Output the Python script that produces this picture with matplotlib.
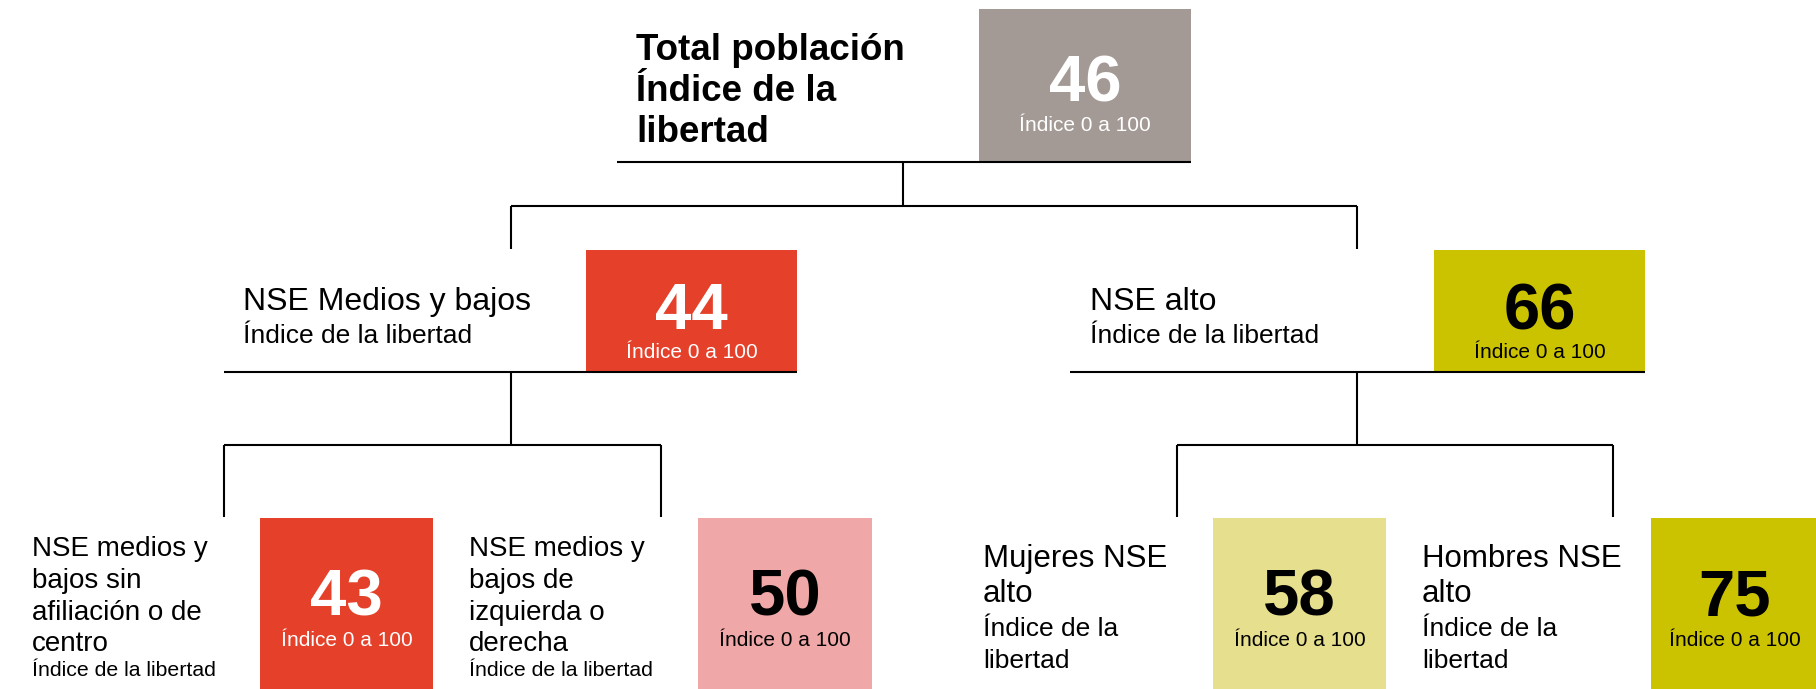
import matplotlib.pyplot as plt
from matplotlib.patches import Rectangle

plt.rcParams['font.family'] = ['Liberation Sans', 'DejaVu Sans']

# Node data (top, level 2, level 3)
node_names = ["Total población", "NSE Medios y bajos", "NSE alto",
              "NSE medios y bajos sin afiliación o de centro",
              "NSE medios y bajos de izquierda o derecha",
              "Mujeres NSE alto", "Hombres NSE alto"]
node_values = [46, 44, 66, 43, 50, 58, 75]
node_colors = ["#A39A95", "#E5402A", "#CCC300", "#E5402A", "#EFA7A7", "#E6DF8D", "#CCC300"]
value_colors = ["white", "white", "black", "white", "black", "black", "black"]
sub_label = "Índice 0 a 100"
index_label = "Índice de la libertad"

# Label lines as they wrap in the picture
label_lines = [
    ["Total población", "Índice de la", "libertad"],
    ["NSE Medios y bajos"],
    ["NSE alto"],
    ["NSE medios y", "bajos sin", "afiliación o de", "centro"],
    ["NSE medios y", "bajos de", "izquierda o", "derecha"],
    ["Mujeres NSE", "alto"],
    ["Hombres NSE", "alto"],
]

W, H = 1816, 689
fig = plt.figure(figsize=(W / 100, H / 100), dpi=100)
ax = fig.add_axes([0, 0, 1, 1])
ax.set_xlim(0, W)
ax.set_ylim(H, 0)
ax.axis('off')

# layout: box (x0, y0, x1, y1) in pixels
boxes = [(979, 9, 1191, 161),
         (586, 250, 797, 371), (1434, 250, 1645, 371),
         (260, 518, 433, 700), (698, 518, 872, 700),
         (1213, 518, 1386, 700), (1651, 518, 1830, 700)]

for i, (x0, y0, x1, y1) in enumerate(boxes):
    ax.add_patch(Rectangle((x0, y0), x1 - x0, y1 - y0, color=node_colors[i], lw=0, zorder=1))

# numbers and sub labels in boxes
num_base = [102, 329, 329, 616, 616, 616, 616]
sub_base = [131, 358, 358, 646, 646, 646, 646]
for i, (x0, y0, x1, y1) in enumerate(boxes):
    xc = (x0 + min(x1, W)) / 2 if i < 6 else 1735
    ax.text(xc, num_base[i], str(node_values[i]), ha='center', va='baseline',
            fontsize=47, fontweight='bold', color=value_colors[i], zorder=3)
    ax.text(xc, sub_base[i], sub_label, ha='center', va='baseline',
            fontsize=15, color=value_colors[i], zorder=3)

# title text
for j, (line, yb) in enumerate(zip(label_lines[0], [60, 101, 142])):
    ax.text(636, yb, line, ha='left', va='baseline', fontsize=26.5, fontweight='bold')

# level 2 text
for i, x in [(1, 243), (2, 1090)]:
    ax.text(x, 310, label_lines[i][0], ha='left', va='baseline', fontsize=23)
    ax.text(x, 343, index_label, ha='left', va='baseline', fontsize=19)

# level 3 left text
for i, x in [(3, 32), (4, 469)]:
    for line, yb in zip(label_lines[i], [556, 588, 620, 651]):
        ax.text(x, yb, line, ha='left', va='baseline', fontsize=20)
    ax.text(x, 676, index_label, ha='left', va='baseline', fontsize=15.3)

# level 3 right text
for i, x in [(5, 983), (6, 1422)]:
    for line, yb in zip(label_lines[i], [567, 602]):
        ax.text(x, yb, line, ha='left', va='baseline', fontsize=22.5)
    for line, yb in zip(["Índice de la", "libertad"], [636, 668]):
        ax.text(x, yb, line, ha='left', va='baseline', fontsize=19)

# connector lines
lw = 1.5
segs = [
    ((617, 1191), (162, 162)),
    ((903, 903), (162, 206)),
    ((511, 1357), (206, 206)),
    ((511, 511), (206, 249)),
    ((1357, 1357), (206, 249)),
    ((224, 797), (372, 372)),
    ((511, 511), (372, 445)),
    ((224, 661), (445, 445)),
    ((224, 224), (445, 517)),
    ((661, 661), (445, 517)),
    ((1070, 1645), (372, 372)),
    ((1357, 1357), (372, 445)),
    ((1177, 1613), (445, 445)),
    ((1177, 1177), (445, 517)),
    ((1613, 1613), (445, 517)),
]
for xs, ys in segs:
    ax.plot(xs, ys, color='black', lw=lw, solid_capstyle='butt', zorder=2)

fig.savefig('out.png', dpi=100)
